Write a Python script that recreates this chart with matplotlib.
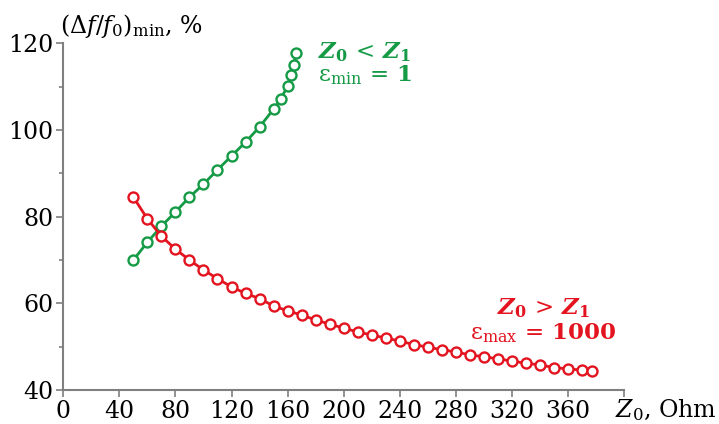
import matplotlib
matplotlib.use('Agg')
import matplotlib.pyplot as plt

plt.rcParams['font.family'] = ['DejaVu Serif']
plt.rcParams['mathtext.fontset'] = 'dejavuserif'

# series
z0_green = [50, 60, 70, 80, 90, 100, 110, 120, 130, 140, 150, 155, 160, 162.5, 164.7, 166]
df_green = [70.0, 74.1, 77.8, 81.1, 84.5, 87.5, 90.8, 94.0, 97.2, 100.7, 104.8, 107.1,
            110.1, 112.7, 115.0, 117.8]

z0_red = [50, 60, 70, 80, 90, 100, 110, 120, 130, 140, 150, 160, 170, 180, 190, 200, 210,
          220, 230, 240, 250, 260, 270, 280, 290, 300, 310, 320, 330, 340, 350, 360, 370, 377]
df_red = [84.5, 79.5, 75.5, 72.5, 70.0, 67.7, 65.7, 63.8, 62.3, 61.1, 59.4, 58.3, 57.3,
          56.2, 55.2, 54.3, 53.4, 52.7, 52.0, 51.3, 50.5, 49.9, 49.3, 48.8, 48.1, 47.7,
          47.2, 46.7, 46.2, 45.8, 45.2, 44.9, 44.6, 44.3]

x_ticks = [0, 40, 80, 120, 160, 200, 240, 280, 320, 360, 400]
x_ticklabels = ['0', '40', '80', '120', '160', '200', '240', '280', '320', '360', '']
y_ticks = [40, 60, 80, 100, 120]

green = '#159a45'
red = '#e3141f'
gray = '#7f7f7f'

fig = plt.figure(figsize=(7.19, 4.24), dpi=100)
ax = fig.add_axes([0.088, 0.080, 0.780, 0.818])

ax.plot(z0_green, df_green, '-o', color=green, lw=2.0, ms=7.2, mew=1.7,
        mfc='white', mec=green, zorder=3)
ax.plot(z0_red, df_red, '-o', color=red, lw=2.0, ms=7.2, mew=1.7,
        mfc='white', mec=red, zorder=3)

ax.set_xlim(0, 400)
ax.set_ylim(40, 120)
for s in ['top', 'right']:
    ax.spines[s].set_visible(False)
for s in ['left', 'bottom']:
    ax.spines[s].set_color(gray)
    ax.spines[s].set_linewidth(1.5)

ax.set_xticks(x_ticks)
ax.set_xticklabels(x_ticklabels)
ax.set_yticks(y_ticks)
ax.set_yticks([50, 70, 90, 110], minor=True)
ax.tick_params(which='both', direction='out', color=gray, width=1.2, labelsize=17)
ax.tick_params(which='major', length=5, pad=2)
ax.tick_params(which='minor', length=3)

ax.text(-0.005, 1.05, r'$(\Delta f/f_0)_{\rm min}$, %', transform=ax.transAxes,
        fontsize=17, ha='left', va='center')
ax.text(0.983, -0.058, r'$Z_0$, Ohm', transform=ax.transAxes,
        fontsize=17, ha='left', va='center')

ax.text(181.5, 118, r'$\mathbfit{Z}_\mathbf{0}\,<\,\mathbfit{Z}_\mathbf{1}$', color=green,
        fontsize=16.5, ha='left', va='center')
ax.text(181.5, 112.6, r'$\mathrm{\varepsilon_{min}}\,=\,\mathbf{1}$', color=green,
        fontsize=16.5, ha='left', va='center')
ax.text(309, 58.9, r'$\mathbfit{Z}_\mathbf{0}\,>\,\mathbfit{Z}_\mathbf{1}$', color=red,
        fontsize=16.5, ha='left', va='center')
ax.text(290, 53.2, r'$\mathrm{\varepsilon_{max}}\,=\,\mathbf{1000}$', color=red,
        fontsize=16.5, ha='left', va='center')

fig.savefig('out.png', dpi=100)
